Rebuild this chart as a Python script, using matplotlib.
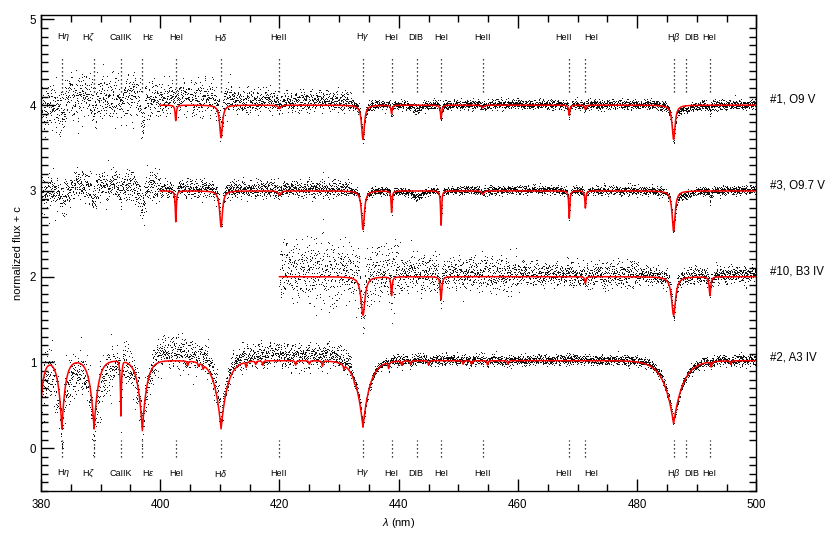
import numpy as np
import matplotlib

matplotlib.use("Agg")
import matplotlib.pyplot as plt
from matplotlib.ticker import MultipleLocator

plt.rcParams['font.family'] = ['Liberation Sans', 'DejaVu Sans']
plt.rcParams['mathtext.fontset'] = 'custom'
plt.rcParams['mathtext.it'] = 'Liberation Sans:italic'
plt.rcParams['mathtext.rm'] = 'Liberation Sans'

# line identifications (nm), names and where the names sit
line_wl = [383.5, 388.9, 393.4, 397.0, 402.6, 410.2, 420.0, 434.0, 438.8,
           443.0, 447.1, 454.1, 468.6, 471.3, 486.1, 488.1, 492.2]
line_names = [r'H$\eta$', r'H$\zeta$', 'CaIIK', r'H$\varepsilon$', 'HeI',
              r'H$\delta$', 'HeII', r'H$\gamma$', 'HeI', 'DIB', 'HeI', 'HeII',
              'HeII', 'HeI', r'H$\beta$', 'DIB', 'HeI']
label_wl = [383.7, 387.9, 393.4, 398.0, 402.7, 410.2, 419.9, 434.0, 438.7,
            442.9, 447.1, 454.0, 467.6, 472.3, 486.1, 489.1, 492.1]

star_labels = ['#1, O9 V', '#3, O9.7 V', '#10, B3 IV', '#2, A3 IV']
star_offsets = [3, 2, 1, 0]

# --- #1, O9 V
s1_obs_range = [380, 500]
s1_model_range = [400, 500]
s1_model_wl = [402.6, 410.2, 420.0, 434.0, 438.8, 447.1, 454.1, 468.6, 471.3, 486.1]
s1_model_depth = [0.18, 0.38, 0.04, 0.40, 0.10, 0.16, 0.03, 0.12, 0.05, 0.40]
s1_model_width = [0.12, 0.28, 0.25, 0.28, 0.12, 0.13, 0.20, 0.12, 0.12, 0.30]
s1_extra_wl = [383.5, 388.9, 393.4, 397.0, 443.0, 487.8, 492.2]
s1_extra_depth = [0.08, 0.22, 0.08, 0.35, 0.06, 0.05, 0.08]
s1_extra_width = [0.50, 0.30, 0.20, 0.30, 0.80, 1.50, 0.15]
s1_noise_edges = [380, 384, 397, 412, 432, 500]
s1_noise_sigma = [0.15, 0.14, 0.10, 0.06, 0.028]
s1_noise_shift = [0.0, 0.12, 0.08, 0.04, 0.0]

# --- #3, O9.7 V
s3_obs_range = [380, 500]
s3_model_range = [400, 500]
s3_model_wl = [402.6, 410.2, 420.0, 434.0, 438.8, 447.1, 454.1, 468.6, 471.3, 486.1]
s3_model_depth = [0.36, 0.42, 0.05, 0.45, 0.25, 0.40, 0.04, 0.32, 0.20, 0.47]
s3_model_width = [0.10, 0.28, 0.25, 0.28, 0.10, 0.10, 0.20, 0.10, 0.10, 0.30]
s3_extra_wl = [383.5, 388.9, 393.4, 397.0, 443.0, 487.8, 492.2]
s3_extra_depth = [0.05, 0.20, 0.05, 0.30, 0.08, 0.05, 0.15]
s3_extra_width = [0.50, 0.30, 0.20, 0.35, 0.80, 1.50, 0.12]
s3_noise_edges = [380, 385, 400, 432, 500]
s3_noise_sigma = [0.10, 0.09, 0.05, 0.025]
s3_noise_shift = [-0.03, 0.06, 0.02, 0.0]

# --- #10, B3 IV
s10_obs_range = [420, 500]
s10_model_range = [420, 500]
s10_model_wl = [434.0, 438.8, 447.1, 471.3, 486.1, 492.2]
s10_model_depth = [0.45, 0.22, 0.27, 0.08, 0.45, 0.22]
s10_model_width = [0.40, 0.12, 0.15, 0.12, 0.40, 0.15]
s10_extra_wl = []
s10_extra_depth = []
s10_extra_width = []
s10_noise_edges = [420, 440, 460, 480, 500]
s10_noise_sigma = [0.17, 0.10, 0.07, 0.05]
s10_noise_shift = [0.05, 0.03, 0.02, 0.01]

# --- #2, A3 IV (Balmer lines with V-shaped cores, plus weak metal lines)
s2_obs_range = [380, 500]
s2_model_range = [380, 500]
s2_continuum = 1.02
s2_balmer_wl = [379.8, 383.5, 388.9, 393.4, 397.0, 410.2, 434.0, 486.1]
s2_balmer_depth = [0.70, 0.78, 0.78, 0.63, 0.80, 0.78, 0.76, 0.72]
s2_balmer_width = [0.50, 0.60, 0.70, 0.12, 0.75, 1.10, 1.20, 1.60]
s2_metal_wl = [404.6, 406.4, 407.2, 414.4, 416.0, 417.2, 422.7, 425.0, 427.2,
               430.8, 432.6, 438.3, 440.5, 442.0, 445.0, 450.8, 452.2, 454.9,
               458.3, 492.4, 495.7]
s2_metal_depth = [0.05, 0.04, 0.05, 0.06, 0.04, 0.05, 0.05, 0.04, 0.06,
                  0.05, 0.04, 0.07, 0.05, 0.04, 0.05, 0.04, 0.04, 0.05,
                  0.04, 0.06, 0.04]
s2_metal_width = 0.1
s2_noise_edges = [380, 392, 399, 410, 432, 500]
s2_noise_sigma = [0.15, 0.12, 0.10, 0.07, 0.03]
s2_noise_shift = [-0.12, -0.04, 0.08, 0.06, 0.0]

step = 0.025


def lorentz_profile(wl, centers, depths, widths):
    flux = np.ones_like(wl)
    for c, d, w in zip(centers, depths, widths):
        flux *= 1 - d / (1 + ((wl - c) / w) ** 2)
    return flux


def cusp_profile(wl, centers, depths, widths):
    flux = np.ones_like(wl)
    for c, d, w in zip(centers, depths, widths):
        flux *= 1 - d * np.exp(-np.abs(wl - c) / w)
    return flux


def noise(wl, edges, sigma, shift):
    idx = np.clip(np.searchsorted(edges, wl, side='right') - 1, 0, len(sigma) - 1)
    return np.array(shift)[idx] + np.array(sigma)[idx] * rng.standard_normal(wl.size)


def a_star_model(wl):
    return (s2_continuum
            * cusp_profile(wl, s2_balmer_wl, s2_balmer_depth, s2_balmer_width)
            * lorentz_profile(wl, s2_metal_wl, s2_metal_depth, [s2_metal_width] * len(s2_metal_wl)))


rng = np.random.default_rng(7)

fig = plt.figure(figsize=(8.3, 5.39), dpi=100)
ax = fig.add_axes([0.0494, 0.089, 0.862, 0.883])

o_stars = [
    (s1_obs_range, s1_model_range, s1_model_wl, s1_model_depth, s1_model_width,
     s1_extra_wl, s1_extra_depth, s1_extra_width, s1_noise_edges, s1_noise_sigma, s1_noise_shift, 3),
    (s3_obs_range, s3_model_range, s3_model_wl, s3_model_depth, s3_model_width,
     s3_extra_wl, s3_extra_depth, s3_extra_width, s3_noise_edges, s3_noise_sigma, s3_noise_shift, 2),
    (s10_obs_range, s10_model_range, s10_model_wl, s10_model_depth, s10_model_width,
     s10_extra_wl, s10_extra_depth, s10_extra_width, s10_noise_edges, s10_noise_sigma, s10_noise_shift, 1),
]

for obs_r, mod_r, mwl, mdep, mwid, ewl, edep, ewid, nedge, nsig, nshift, off in o_stars:
    wl = np.arange(obs_r[0], obs_r[1], step)
    flux = lorentz_profile(wl, list(mwl) + list(ewl), list(mdep) + list(edep), list(mwid) + list(ewid))
    obs = flux + noise(wl, nedge, nsig, nshift)
    ax.plot(wl, obs + off, ',', color='black', alpha=0.9)

    grid = np.arange(mod_r[0], mod_r[1], 0.02)
    ax.plot(grid, lorentz_profile(grid, mwl, mdep, mwid) + off, color='#ff0000', lw=1.1)

# A star
wl = np.arange(s2_obs_range[0], s2_obs_range[1], step)
obs = a_star_model(wl) + noise(wl, s2_noise_edges, s2_noise_sigma, s2_noise_shift)
ax.plot(wl, obs, ',', color='black', alpha=0.9)
grid = np.arange(s2_model_range[0], s2_model_range[1], 0.02)
ax.plot(grid, a_star_model(grid), color='#ff0000', lw=1.1)

# line markers top and bottom
for w, lw_, name in zip(line_wl, label_wl, line_names):
    ax.plot([w, w], [4.15, 4.56], ls=(0, (1, 2.2)), color='black', lw=0.9)
    ax.plot([w, w], [-0.1, 0.1], ls=(0, (1, 2.2)), color='black', lw=0.9)
    ax.text(lw_, 4.79, name, ha='center', va='center', fontsize=6.5)
    ax.text(lw_, -0.29, name, ha='center', va='center', fontsize=6.5)

for lab, off in zip(star_labels, star_offsets):
    ax.text(502.2, off + 1.06, lab, ha='left', va='center', fontsize=8.3)

ax.set_xlim(380, 500)
ax.set_ylim(-0.5, 5.05)
ax.xaxis.set_major_locator(MultipleLocator(20))
ax.xaxis.set_minor_locator(MultipleLocator(5))
ax.yaxis.set_major_locator(MultipleLocator(1))
ax.yaxis.set_minor_locator(MultipleLocator(0.1))
ax.tick_params(which='both', direction='in', top=True, right=True, labelsize=8.3, width=1.0)
ax.tick_params(which='major', length=9)
ax.tick_params(which='minor', length=5)
ax.tick_params(axis='y', which='major', right=False)
ax.tick_params(axis='x', pad=6)
for s in ax.spines.values():
    s.set_linewidth(1.0)

ax.set_xlabel(r'$\lambda$ (nm)', fontsize=8, labelpad=3)
ax.set_ylabel('normalized flux + c', fontsize=8, labelpad=5)

fig.savefig('out.png', dpi=100)
